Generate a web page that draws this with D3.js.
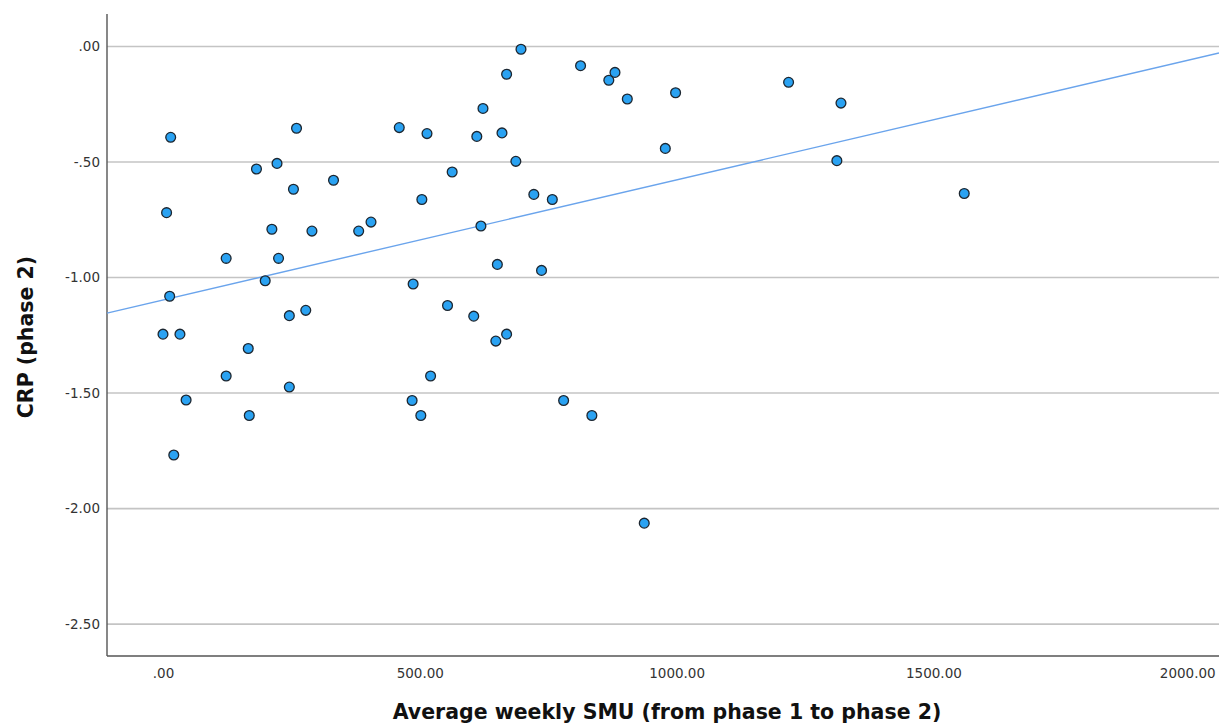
<!DOCTYPE html>
<html>
<head>
<meta charset="utf-8">
<script src="https://cdn.jsdelivr.net/npm/d3@7"></script>
<style>
  body { margin: 0; background: #fff; }
  svg { display: block; }
  .tick text { font-family: "DejaVu Sans", sans-serif; font-size: 13.5px; fill: #333; }
  .axis-title { font-family: "DejaVu Sans", sans-serif; font-weight: bold; font-size: 20.5px; fill: #111; }
</style>
</head>
<body>
<svg id="chart" width="1219" height="726"></svg>
<script>
// values
const smu = [15, 7, 182, 222, 260, 254, 332, 212, 290, 381, 405, 460, 504, 697, 669, 623, 514, 611,
  660, 687, 563, 722, 758, 619, 813, 880, 868, 904, 998, 978, 1218, 1320, 1312, 1560, 123, 225, 199,
  13, 246, 278, 0, 33, 166, 123, 246, 45, 168, 21, 487, 485, 651, 737, 554, 605, 669, 648, 521, 502,
  780, 835, 937];
const crp = [-0.393, -0.719, -0.530, -0.506, -0.354, -0.618, -0.579, -0.791, -0.799, -0.799, -0.760,
  -0.351, -0.662, -0.012, -0.120, -0.268, -0.377, -0.389, -0.374, -0.497, -0.543, -0.640, -0.662,
  -0.777, -0.083, -0.112, -0.146, -0.227, -0.200, -0.441, -0.155, -0.245, -0.494, -0.636, -0.917,
  -0.917, -1.014, -1.081, -1.165, -1.142, -1.245, -1.245, -1.307, -1.426, -1.474, -1.530, -1.597,
  -1.768, -1.028, -1.532, -0.943, -0.969, -1.121, -1.167, -1.245, -1.275, -1.426, -1.597, -1.532,
  -1.597, -2.063];
const fitLine = [[-109, -1.154], [2056, -0.028]];
const xTicks = [0, 500, 1000, 1500, 2000];
const yTicks = [0, -0.5, -1, -1.5, -2, -2.5];
const xTitle = "Average weekly SMU (from phase 1 to phase 2)";
const yTitle = "CRP (phase 2)";

const svg = d3.select("#chart");
const padding = {left: 107, right: 0, top: 14, bottom: 70};
const width = 1219 - padding.left - padding.right;
const height = 726 - padding.top - padding.bottom;

const x = d3.scaleLinear().domain([-109, 2056]).range([0, width]);
const y = d3.scaleLinear().domain([-2.638, 0.1407]).range([height, 0]);

// SPSS style: ".00", "-.50", "-1.00"
const fmt = function(v) {
  return d3.format(".2f")(v).replace("\u2212", "-").replace(/^0\./, ".").replace(/^-0\./, "-.");
};

const g = svg.append("g")
  .attr("transform", "translate(" + padding.left + "," + padding.top + ")");

// horizontal grid lines
g.append("g")
  .selectAll("line")
  .data(yTicks)
  .enter().append("line")
  .attr("x1", 0).attr("x2", width)
  .attr("y1", d => y(d)).attr("y2", d => y(d))
  .attr("stroke", "#c4c4c4")
  .attr("stroke-width", 1.6);

// axes
const xAxis = g.append("g")
  .attr("transform", "translate(0," + height + ")")
  .call(d3.axisBottom(x).tickValues(xTicks).tickFormat(fmt).tickSize(0).tickPadding(12));
const yAxis = g.append("g")
  .call(d3.axisLeft(y).tickValues(yTicks).tickFormat(fmt).tickSize(0).tickPadding(7));
xAxis.select(".domain").attr("stroke", "#555").attr("stroke-width", 1.4).attr("d", "M0,0H" + width);
yAxis.select(".domain").attr("stroke", "#555").attr("stroke-width", 1.4).attr("d", "M0,0V" + height);

// keep last x label inside the page
xAxis.selectAll(".tick").filter(d => d === 2000).select("text").attr("dx", -3);

// fit line
g.append("path")
  .datum(fitLine)
  .attr("d", d3.line().x(d => x(d[0])).y(d => y(d[1])))
  .attr("fill", "none")
  .attr("stroke", "#6aa4ec")
  .attr("stroke-width", 1.4);

// points
g.append("g")
  .selectAll("circle")
  .data(d3.range(smu.length))
  .enter().append("circle")
  .attr("cx", i => x(smu[i]))
  .attr("cy", i => y(crp[i]))
  .attr("r", 4.9)
  .attr("fill", "#2aa2f2")
  .attr("stroke", "#1c2630")
  .attr("stroke-width", 1.3);

// axis titles
svg.append("text")
  .attr("class", "axis-title")
  .attr("x", 667)
  .attr("y", 719)
  .attr("text-anchor", "middle")
  .text(xTitle);

svg.append("text")
  .attr("class", "axis-title")
  .attr("transform", "translate(33,337) rotate(-90)")
  .attr("text-anchor", "middle")
  .text(yTitle);
</script>
</body>
</html>
